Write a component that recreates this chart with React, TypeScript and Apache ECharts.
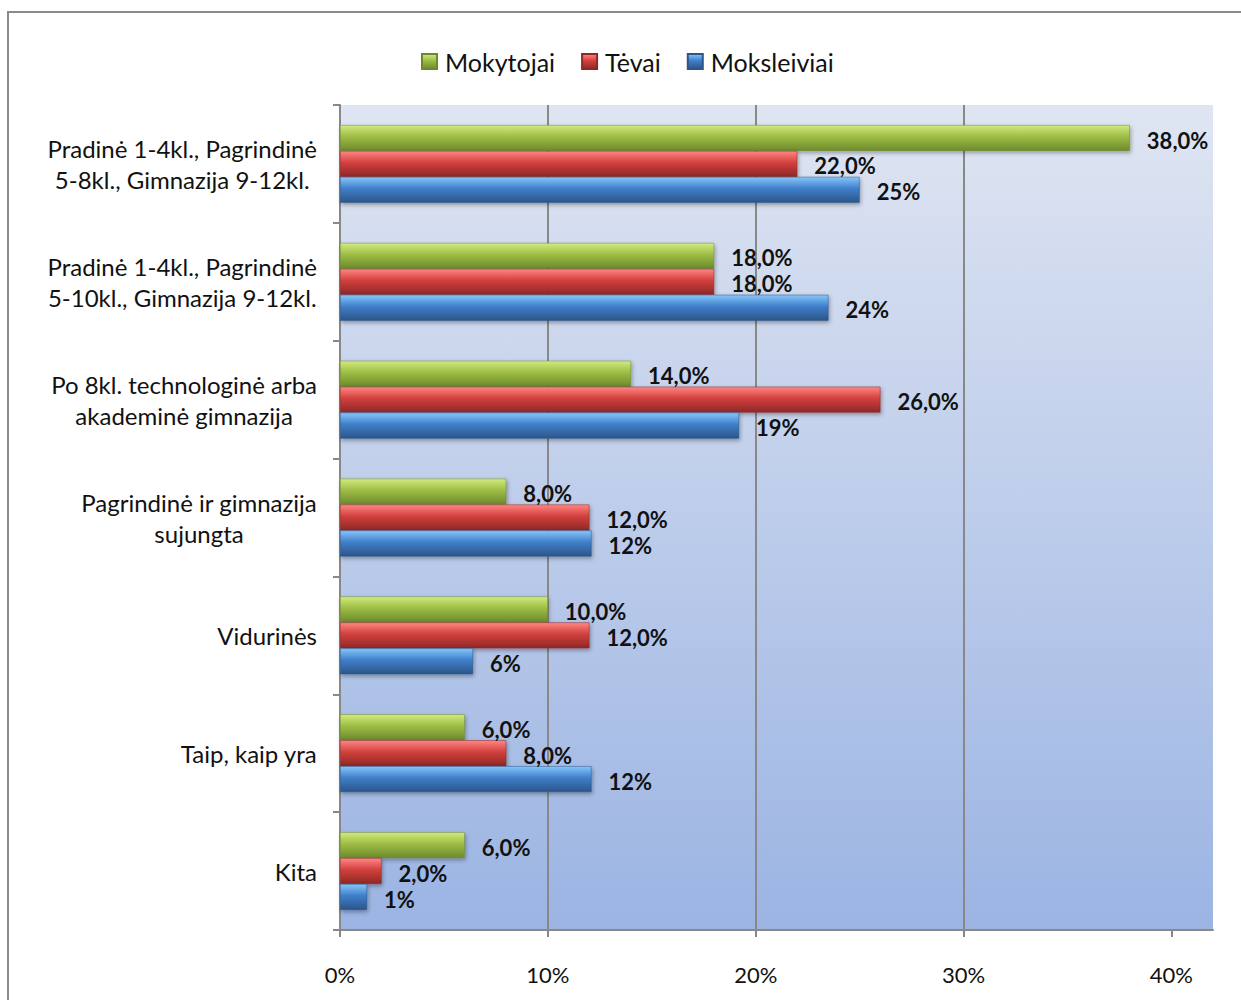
import React, { useEffect, useRef } from "react";
import * as echarts from "echarts";

const categories = [
  "Pradinė 1-4kl., Pagrindinė\n5-8kl., Gimnazija 9-12kl.",
  "Pradinė 1-4kl., Pagrindinė\n5-10kl., Gimnazija 9-12kl.",
  "Po 8kl. technologinė arba\nakademinė gimnazija",
  "Pagrindinė ir gimnazija\nsujungta",
  "Vidurinės",
  "Taip, kaip yra",
  "Kita",
];
const seriesNames = ["Mokytojai", "Tėvai", "Moksleiviai"];
const mokytojai = [38, 18, 14, 8, 10, 6, 6];
const tevai = [22, 18, 26, 12, 12, 8, 2];
const moksleiviai = [25, 23.5, 19.2, 12.1, 6.4, 12.1, 1.3];
const xTicks = [0, 10, 20, 30, 40];

const FONT = "Lato";
const GRAY = "#888888";

function grad(top: string, mid: string, bottom: string) {
  return new echarts.graphic.LinearGradient(0, 0, 0, 1, [
    { offset: 0, color: top },
    { offset: 0.45, color: mid },
    { offset: 1, color: bottom },
  ]);
}

const greenFill = () => grad("#d2ea80", "#9dbd45", "#6c8a2c");
const redFill = () => grad("#ff8683", "#d2403d", "#8e2826");
const blueFill = () => grad("#86c6fa", "#3f7fca", "#2c5588");

export default function App() {
  const ref = useRef<HTMLDivElement>(null);
  useEffect(() => {
    if (!ref.current) return;
    const chart = echarts.init(ref.current, undefined, { renderer: "svg" });
    const fmt1 = (p: any) => p.value.toFixed(1).replace(".", ",") + "%";
    const fmt0 = (p: any) => Math.round(p.value) + "%";
    const mk = (name: string, data: number[], fill: () => any, border: string, f: any) => ({
      name,
      type: "bar",
      data,
      barGap: "0%",
      barCategoryGap: "34%",
      itemStyle: {
        color: fill(),
        borderColor: border,
        borderWidth: 0.5,
        shadowBlur: 4,
        shadowColor: "rgba(0,0,0,0.35)",
        shadowOffsetX: 1,
        shadowOffsetY: 2,
      },
      label: {
        show: true,
        position: "right",
        distance: 17,
        offset: [0, 2],
        formatter: f,
        fontFamily: FONT,
        fontWeight: "bold",
        fontSize: 22,
        color: "#111",
      },
    });
    chart.setOption({
      animation: false,
      textStyle: { fontFamily: FONT },
      graphic: [
        {
          type: "rect",
          shape: { x: 8, y: 12, width: 1260, height: 1010 },
          style: { fill: "none", stroke: "#8a8a8a", lineWidth: 2 },
          z: -10,
          silent: true,
        },
      ],
      legend: {
        data: seriesNames,
        left: 416,
        top: 44,
        icon: "rect",
        itemWidth: 15,
        itemHeight: 15,
        itemGap: 26,
        textStyle: { fontFamily: FONT, fontSize: 25, color: "#111", padding: [0, 0, 0, 3] },
      },
      grid: {
        left: 340,
        right: 28,
        top: 105,
        bottom: 70,
        show: true,
        borderWidth: 0,
        backgroundColor: new echarts.graphic.LinearGradient(0, 0, 0, 1, [
          { offset: 0, color: "#dfe5f2" },
          { offset: 1, color: "#9bb4e3" },
        ]),
      },
      xAxis: {
        type: "value",
        min: 0,
        max: 42,
        interval: 10,
        axisLine: { show: true, lineStyle: { color: GRAY, width: 2 } },
        axisTick: { show: true, length: 7, customValues: xTicks, lineStyle: { color: GRAY, width: 2 } },
        splitLine: { show: true, showMaxLine: false, lineStyle: { color: GRAY, width: 2 } },
        axisLabel: {
          customValues: xTicks,
          formatter: (v: number) => v + "%",
          margin: 33,
          fontFamily: FONT,
          fontSize: 22,
          color: "#111",
        },
      },
      yAxis: {
        type: "category",
        data: categories,
        inverse: true,
        axisLine: { show: true, lineStyle: { color: GRAY, width: 2 } },
        axisTick: { show: true, length: 7, lineStyle: { color: GRAY, width: 2 } },
        axisLabel: {
          margin: 23,
          align: "right",
          formatter: (v: string) =>
            v
              .split("\n")
              .map((l) => "{c|" + l + "}")
              .join("\n"),
          rich: {
            c: {
              align: "center",
              fontFamily: FONT,
              fontSize: 24,
              lineHeight: 31,
              color: "#111",
            },
          },
        },
      },
      series: [
        mk(seriesNames[0], mokytojai, greenFill, "#6c8a2c", fmt1),
        mk(seriesNames[1], tevai, redFill, "#8e2826", fmt1),
        mk(seriesNames[2], moksleiviai, blueFill, "#2c5588", fmt0),
      ],
    });
    return () => chart.dispose();
  }, []);
  return (
    <div
      ref={ref}
      style={{ position: "absolute", left: 0, top: 0, width: 1241, height: 1000, background: "#fff" }}
    />
  );
}
